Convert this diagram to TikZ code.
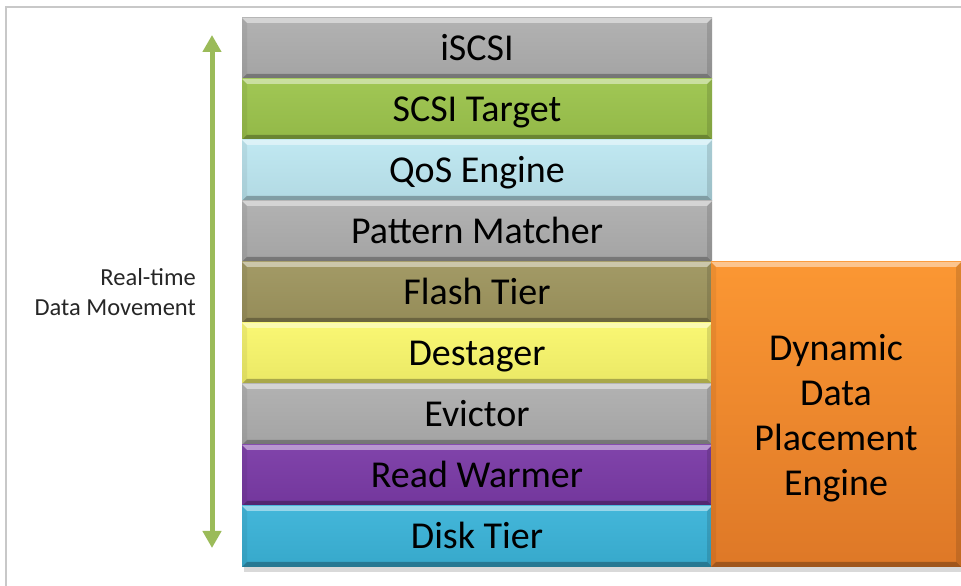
\documentclass[tikz,border=0pt]{standalone}
\usepackage{fontspec}
\setmainfont{Carlito}
\usetikzlibrary{calc,arrows.meta}

\definecolor{cgray}{HTML}{AEAEAE}
\definecolor{cgreen}{HTML}{9CC44C}
\definecolor{cqos}{HTML}{BDE7F1}
\definecolor{colive}{HTML}{9E955E}
\definecolor{cyellow}{HTML}{F9F76C}
\definecolor{cpurple}{HTML}{7A3AA6}
\definecolor{cdisk}{HTML}{3AB3D8}
\definecolor{corangeT}{HTML}{FB9733}
\definecolor{corangeB}{HTML}{DE7827}
\definecolor{carrow}{HTML}{9BBB59}
\definecolor{cframe}{HTML}{C8C8C8}

\tikzset{
  x=1pt, y=1pt,
  bevel/.style={path picture={
    \fill[white,opacity=0.45] (path picture bounding box.north west) -- (path picture bounding box.north east)
      -- ([shift={(-5pt,-5pt)}]path picture bounding box.north east) -- ([shift={(5pt,-5pt)}]path picture bounding box.north west) -- cycle;
    \fill[black,opacity=0.28] (path picture bounding box.south west) -- (path picture bounding box.south east)
      -- ([shift={(-5pt,5pt)}]path picture bounding box.south east) -- ([shift={(5pt,5pt)}]path picture bounding box.south west) -- cycle;
    \fill[black,opacity=0.12] (path picture bounding box.north east) -- (path picture bounding box.south east)
      -- ([shift={(-5pt,5pt)}]path picture bounding box.south east) -- ([shift={(-5pt,-5pt)}]path picture bounding box.north east) -- cycle;
    \fill[black,opacity=0.06] (path picture bounding box.north west) -- (path picture bounding box.south west)
      -- ([shift={(5pt,5pt)}]path picture bounding box.south west) -- ([shift={(5pt,-5pt)}]path picture bounding box.north west) -- cycle;
  }},
  layer/.style={rectangle, inner sep=0pt, minimum width=470pt, minimum height=61pt,
    text height=28pt, text depth=3pt,
    top color=#1!95!white, bottom color=#1!94!black, bevel,
    font=\fontsize{38}{42}\selectfont, text=black},
  engine/.style={rectangle, inner sep=0pt, minimum width=250pt, minimum height=305pt,
    top color=corangeT, bottom color=corangeB, bevel},
  enginetext/.style={align=center, inner sep=0pt,
    font=\fontsize{38}{45}\selectfont, text=black},
  updown/.style={draw=carrow, line width=5pt,
    {Triangle[width=18pt,length=17pt]}-{Triangle[width=18pt,length=17pt]}},
  lbl/.style={align=right, anchor=east, inner sep=0pt, font=\fontsize{24.5}{30}\selectfont, text=black!85},
}

\begin{document}
\begin{tikzpicture}
\useasboundingbox (0,0) rectangle (961,586);

% frame
\coordinate (fbl) at (6,0);
\coordinate (ftl) at (6,579);
\coordinate (ftr) at (961,579);
\draw[cframe, line width=2pt] (fbl) -- (ftl) -- (ftr);

% shadow
\fill[black, opacity=0.15] (244,14) rectangle (961,19);

% layers
\node[layer=cgray]   (iscsi)   at (477,537.5) {iSCSI};
\node[layer=cgreen]  (scsi)    at (477,476.5) {SCSI Target};
\node[layer=cqos]    (qos)     at (477,415.5) {QoS Engine};
\node[layer=cgray]   (pattern) at (477,354.5) {Pattern Matcher};
\node[layer=colive]  (flash)   at (477,293.5) {Flash Tier};
\node[layer=cyellow] (destage) at (477,232.5) {Destager};
\node[layer=cgray]   (evict)   at (477,171.5) {Evictor};
\node[layer=cpurple] (warm)    at (477,110.5) {Read Warmer};
\node[layer=cdisk]   (disk)    at (477,49.5)  {Disk Tier};

% engine
\node[engine] (dpe) at (836,171.5) {};
\node[enginetext] (dpetext) at ([yshift=-4pt]dpe.center) {Dynamic\\Data\\Placement\\Engine};

% arrow
\coordinate (atop) at (212,551);
\coordinate (abot) at (212,38);
\draw[updown] (atop) -- (abot);

\node[lbl] (rt) at (196,294) {Real-time\\Data Movement};
\end{tikzpicture}
\end{document}
